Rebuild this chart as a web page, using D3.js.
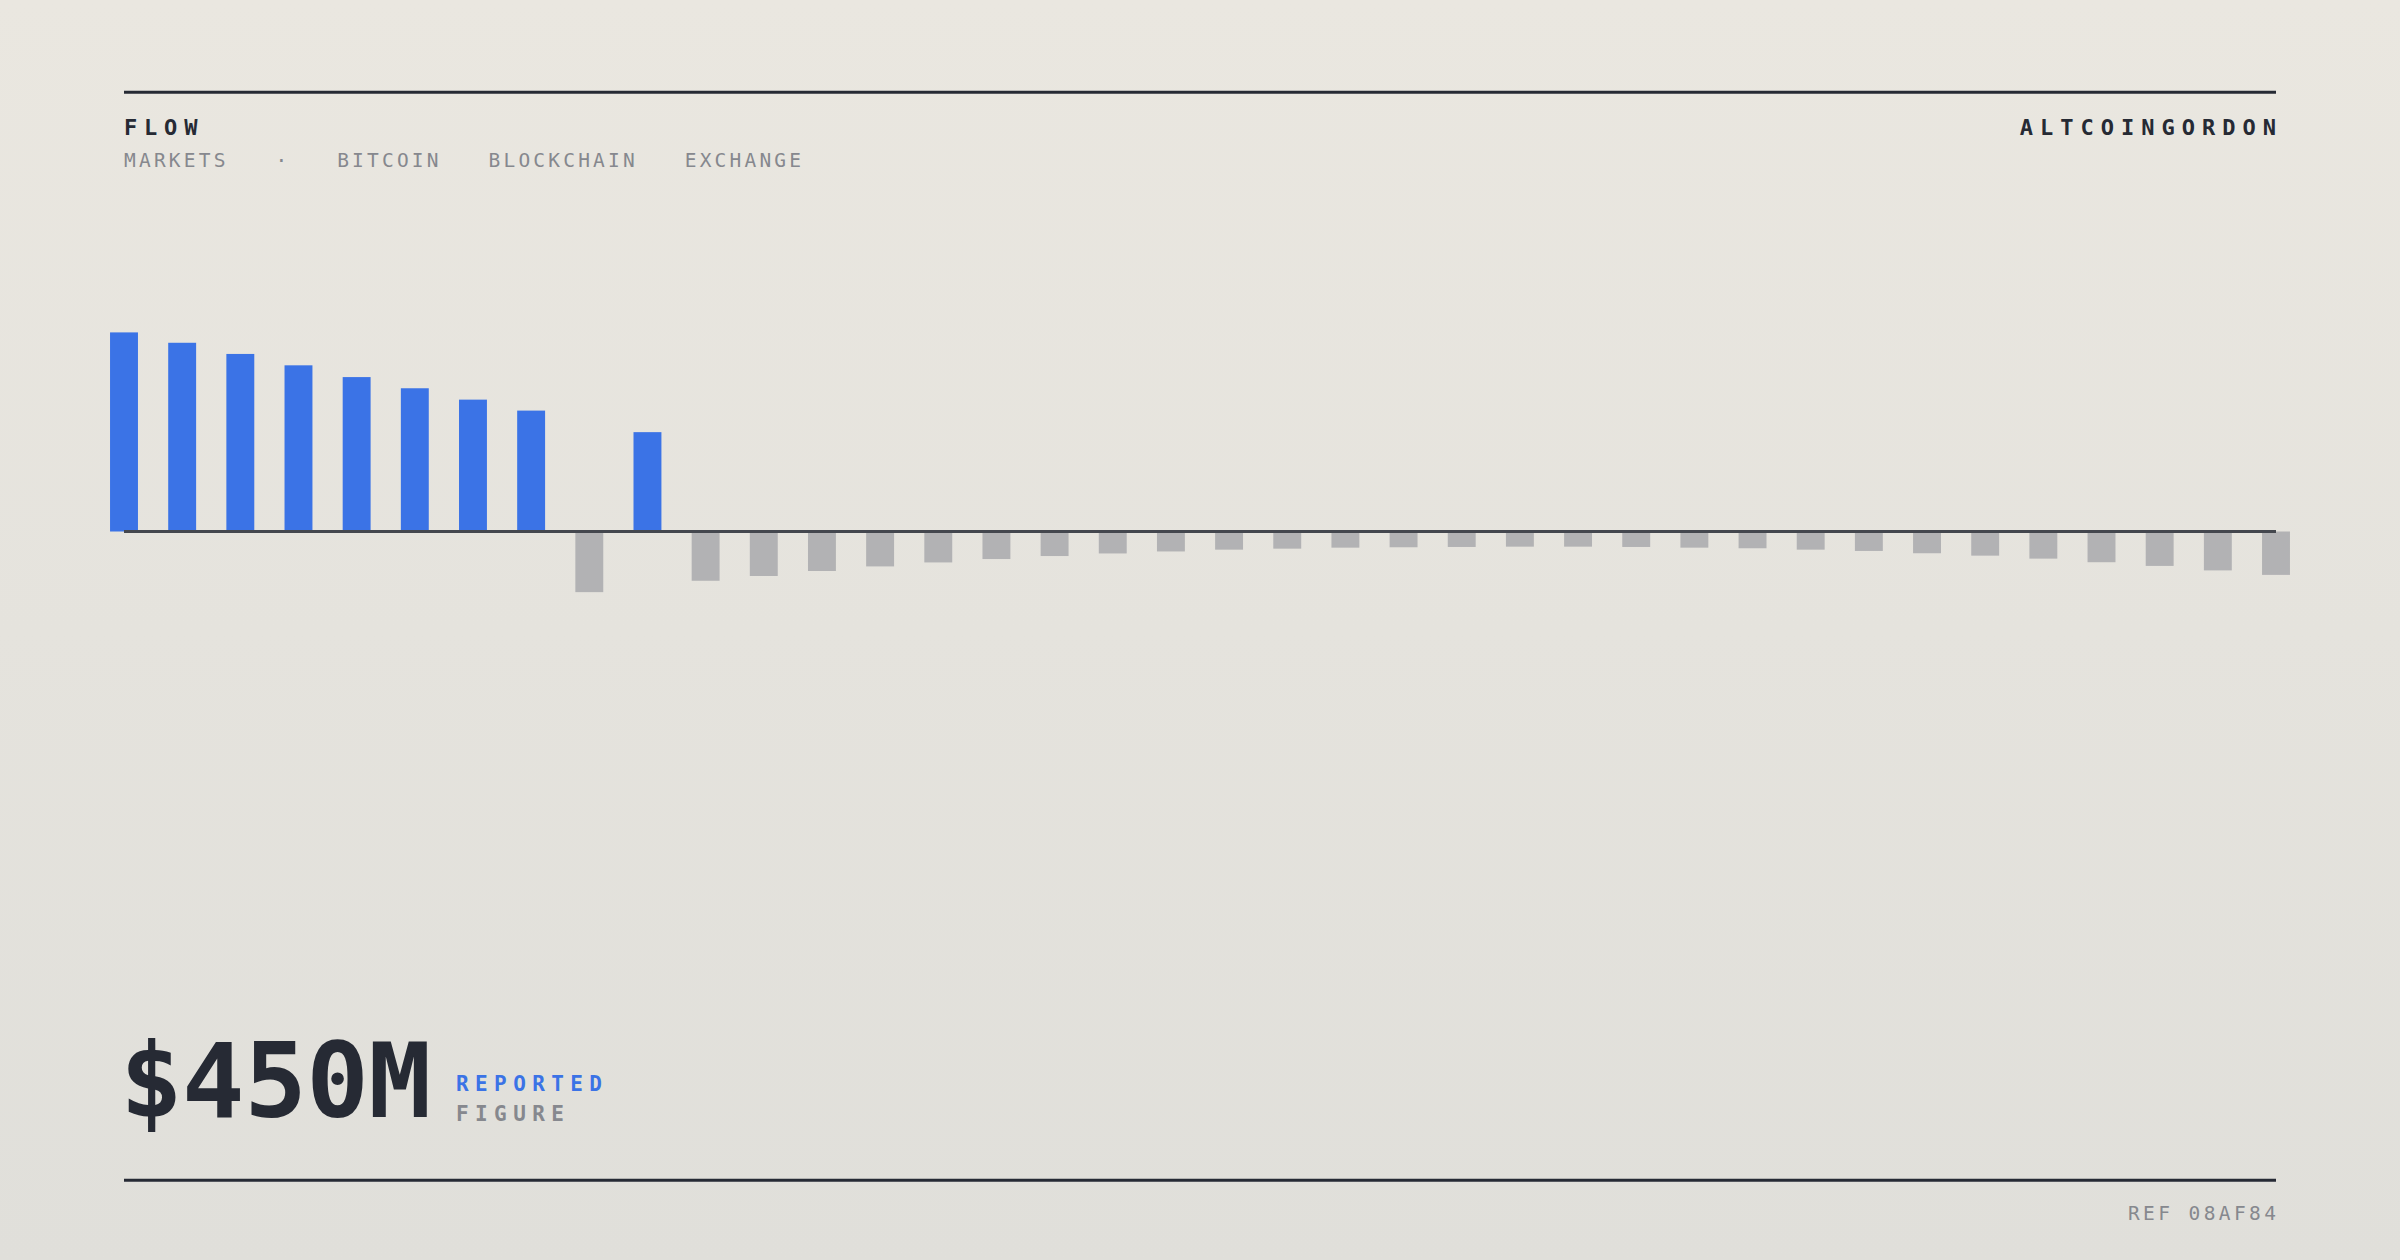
<!DOCTYPE html>
<html>
<head>
<meta charset="utf-8">
<script src="https://cdn.jsdelivr.net/npm/d3@7"></script>
<style>
  html, body { margin: 0; padding: 0; }
  body { width: 2400px; height: 1260px; overflow: hidden; }
  svg { display: block; }
</style>
</head>
<body>
<svg id="chart" width="2400" height="1260"></svg>
<script>
// ---- data ----
const categories = ["01","02","03","04","05","06","07","08","09","10",
  "11","12","13","14","15","16","17","18","19","20",
  "21","22","23","24","25","26","27","28","29","30",
  "31","32","33","34","35","36","37","38"];
const flowValues = [99.8, 94.6, 89.0, 83.3, 77.4, 71.8, 66.1, 60.6, -30.4, 49.8,
  -24.7, -22.3, -19.8, -17.5, -15.5, -13.8, -12.3, -11.0, -10.0, -9.1,
  -8.6, -8.1, -7.9, -7.75, -7.6, -7.6, -7.75, -8.1, -8.4, -9.1,
  -9.75, -10.9, -12.1, -13.6, -15.4, -17.25, -19.5, -21.75];
const tags = ["MARKETS", "·", "BITCOIN", "BLOCKCHAIN", "EXCHANGE"];
const titleText = "FLOW";
const brandText = "ALTCOINGORDON";
const headline = "$450M";
const headlineTag1 = "REPORTED";
const headlineTag2 = "FIGURE";
const refText = "REF 08AF84";

// ---- style ----
const W = 2400, H = 1260;
const left = 124, right = 2276;
const MONO = "'DejaVu Sans Mono', 'Liberation Mono', monospace";
const dark = "#262a34", grey = "#86888e", blue = "#3b73e6", barGrey = "#b2b2b4";

const svg = d3.select("#chart");
const defs = svg.append("defs");
const grad = defs.append("linearGradient").attr("id", "bg").attr("x1", 0).attr("y1", 0).attr("x2", 0).attr("y2", 1);
grad.append("stop").attr("offset", "0%").attr("stop-color", "#eae7e0");
grad.append("stop").attr("offset", "100%").attr("stop-color", "#e0dfda");
svg.append("rect").attr("width", W).attr("height", H).attr("fill", "url(#bg)");

// rules
svg.append("line").attr("x1", left).attr("x2", right).attr("y1", 92.3).attr("y2", 92.3)
  .attr("stroke", dark).attr("stroke-width", 3);
svg.append("line").attr("x1", left).attr("x2", right).attr("y1", 1180.3).attr("y2", 1180.3)
  .attr("stroke", dark).attr("stroke-width", 3);

// header
svg.append("text").attr("x", left).attr("y", 135).text(titleText)
  .attr("font-family", MONO).attr("font-weight", 700).attr("font-size", 22)
  .attr("letter-spacing", 6.8).attr("fill", dark);
svg.append("text").attr("x", right + 7).attr("y", 134.5).attr("text-anchor", "end").text(brandText)
  .attr("font-family", MONO).attr("font-weight", 700).attr("font-size", 22)
  .attr("letter-spacing", 7).attr("fill", dark);

const tagG = svg.append("g");
let tx = left;
const tagLS = 3.2;
tags.forEach(t => {
  const el = tagG.append("text").attr("x", tx).attr("y", 167.3).text(t)
    .attr("font-family", MONO).attr("font-size", 19.5).attr("letter-spacing", tagLS)
    .attr("fill", grey);
  const len = el.node().getComputedTextLength();
  tx = tx + len - tagLS + 50;
});

// chart
const x = d3.scalePoint().domain(categories).range([left, right]);
const step = x.step();
const bw = step * 0.48;
const y = d3.scaleLinear().domain([0, 100]).range([531.5, 332]);

svg.append("g").selectAll("rect").data(flowValues).join("rect")
  .attr("x", (d, i) => x(categories[i]) - bw / 2)
  .attr("width", bw)
  .attr("y", d => d >= 0 ? y(d) : y(0))
  .attr("height", d => Math.abs(y(d) - y(0)))
  .attr("fill", d => d >= 0 ? blue : barGrey);

svg.append("line").attr("x1", left).attr("x2", right).attr("y1", y(0)).attr("y2", y(0))
  .attr("stroke", "#44474e").attr("stroke-width", 3);

// headline
svg.append("text").attr("x", left - 4).attr("y", 1117).text(headline)
  .attr("font-family", MONO).attr("font-weight", 700).attr("font-size", 104)
  .attr("letter-spacing", -0.5).attr("fill", dark);
svg.append("text").attr("x", 456).attr("y", 1091).text(headlineTag1)
  .attr("font-family", MONO).attr("font-weight", 700).attr("font-size", 21)
  .attr("letter-spacing", 6.4).attr("fill", blue);
svg.append("text").attr("x", 456).attr("y", 1121).text(headlineTag2)
  .attr("font-family", MONO).attr("font-weight", 700).attr("font-size", 21)
  .attr("letter-spacing", 6.4).attr("fill", grey);

// footer
svg.append("text").attr("x", right + 3.4).attr("y", 1220).attr("text-anchor", "end").text(refText)
  .attr("font-family", MONO).attr("font-size", 19.5).attr("letter-spacing", 3.4)
  .attr("fill", grey);
</script>
</body>
</html>
